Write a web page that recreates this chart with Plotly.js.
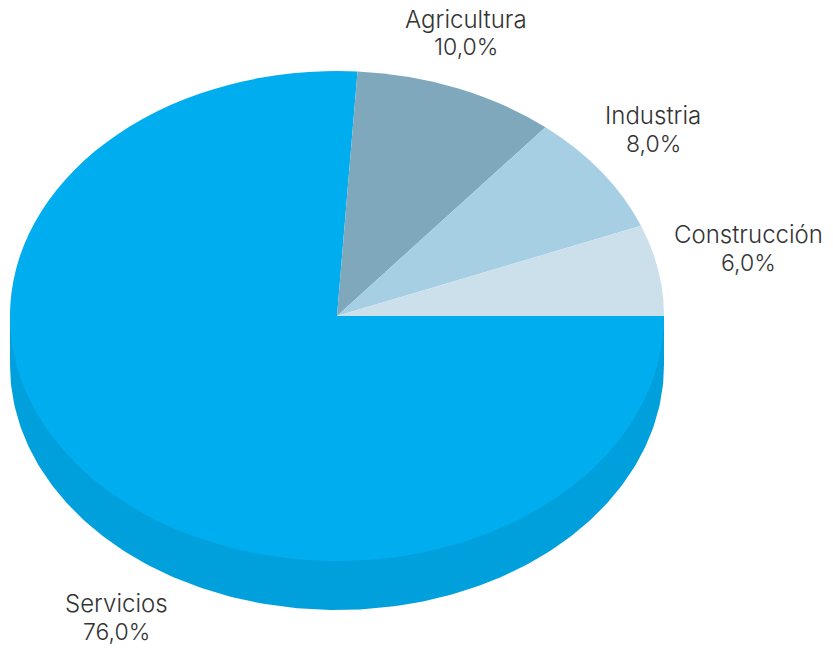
<!DOCTYPE html>
<html><head><meta charset="utf-8">
<script src="https://cdn.plot.ly/plotly-3.0.1.min.js"></script>
<style>html,body{margin:0;padding:0;background:#fff}#c{width:833px;height:648px}</style>
</head><body><div id="c"></div>
<script>
const categories = ["Servicios","Agricultura","Industria","Construcción"];
const shares = [76,10,8,6];
const sliceColors = ["#00adef","#7fa8bd","#a6cfe4","#cce0ec"];
const sideColor = "#00a0dc";
const labelX = [116,466,653,748];
const nameY = [603,19,115,234];
const shareY = [632,47,144,263];
const W=833,H=648,cx=337,cy=316,rx=327,ry=245,depth=49;
const sideX=[],sideY=[];
for(let d=0;d<=180;d+=1){const t=d*Math.PI/180;sideX.push(cx+rx*Math.cos(t));sideY.push(cy+depth+ry*Math.sin(t));}
sideX.push(cx-rx,cx+rx);sideY.push(cy,cy);
const traces=[
 {type:"scatter",mode:"lines",x:sideX,y:sideY,fill:"toself",fillcolor:sideColor,line:{width:0},hoverinfo:"skip",showlegend:false},
 {type:"pie",labels:categories,values:shares,sort:false,direction:"clockwise",rotation:90,textinfo:"none",
  marker:{colors:sliceColors,line:{width:0}},showlegend:false,
  domain:{x:[(cx-ry)/W,(cx+ry)/W],y:[1-(cy+ry)/H,1-(cy-ry)/H]}}
];
const note=(x,y,text,size)=>({x,y,xref:"x",yref:"y",xanchor:"center",yanchor:"middle",showarrow:false,text,
 font:{family:"Inter, sans-serif",size,weight:300,color:"#333333"}});
const annotations=[];
categories.forEach((c,i)=>{
 annotations.push(note(labelX[i],nameY[i],c,24));
 annotations.push(note(labelX[i],shareY[i],shares[i].toFixed(1).replace(".",",")+"%",23));
});
const layout={width:W,height:H,margin:{l:0,r:0,t:0,b:0},paper_bgcolor:"#fff",plot_bgcolor:"#fff",showlegend:false,
 xaxis:{range:[0,W],visible:false,fixedrange:true},yaxis:{range:[H,0],visible:false,fixedrange:true},annotations};
Plotly.newPlot("c",traces,layout,{staticPlot:true,displayModeBar:false}).then(gd=>{
 const k=rx/ry;
 gd.querySelectorAll(".pielayer").forEach(el=>el.setAttribute("transform",`translate(${cx},0) scale(${k},1) translate(${-cx},0)`));
});
</script></body></html>
